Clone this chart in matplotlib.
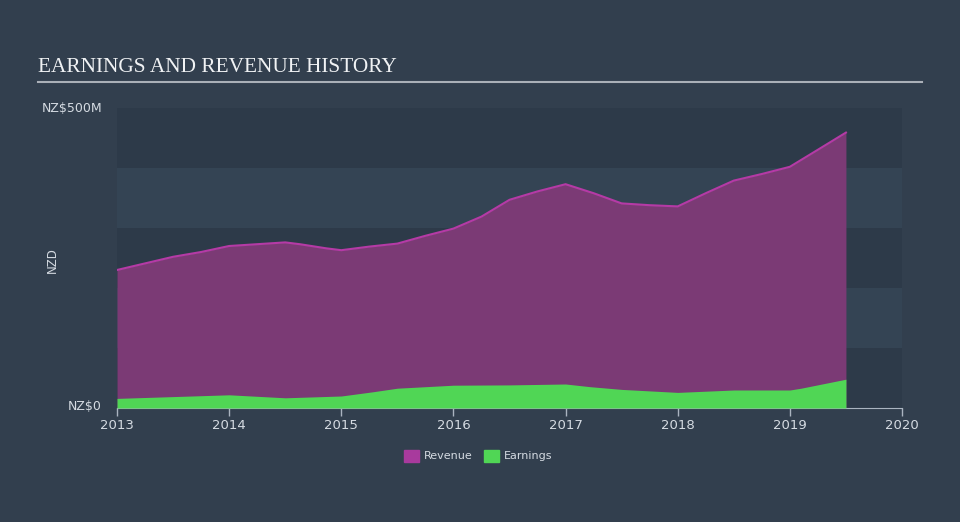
import matplotlib.pyplot as plt

# revenue and earnings (NZ$ millions)
rev_x = [2013.0, 2013.5, 2013.75, 2014.0, 2014.25, 2014.5, 2014.63, 2014.87, 2015.0,
         2015.25, 2015.5, 2015.75, 2016.0, 2016.25, 2016.5, 2016.75, 2017.0, 2017.25,
         2017.5, 2017.75, 2018.0, 2018.25, 2018.5, 2018.75, 2019.0, 2019.22, 2019.5]
rev_y = [230, 252, 260, 270, 273, 276, 273, 266, 263,
         269, 274, 287, 299, 319, 347, 361, 373, 358,
         341, 338, 336, 358, 379, 390, 402, 427, 459]

earn_x = [2013.0, 2014.0, 2014.5, 2015.0, 2015.28, 2015.5, 2015.75, 2016.0, 2016.5,
          2017.0, 2017.22, 2017.5, 2018.0, 2018.5, 2019.0, 2019.1, 2019.5]
earn_y = [16, 22, 17, 20, 27, 33, 35.5, 38, 38.5,
          40, 35.5, 31, 26, 30, 30, 33, 48]

years = [2013, 2014, 2015, 2016, 2017, 2018, 2019, 2020]

bg = '#323f4e'
fig = plt.figure(figsize=(9.6, 5.22), dpi=100, facecolor=bg)
ax = fig.add_axes([117 / 960, 1 - 408 / 522, 785 / 960, 300 / 522])
ax.set_facecolor('none')

# alternating horizontal bands
for i in range(5):
    col = '#2d3a49' if i % 2 == 0 else '#344454'
    ax.axhspan(i * 100, (i + 1) * 100, color=col, zorder=0, lw=0)

ax.fill_between(rev_x, 0, rev_y, color='#7b3a75', lw=0, zorder=2)
ax.plot(rev_x, rev_y, color='#b53aa6', lw=1.5, zorder=3)
ax.fill_between(earn_x, 0, earn_y, color='#50d655', lw=0, zorder=4)

ax.set_xlim(2013, 2020)
ax.set_ylim(0, 500)
ax.set_xticks(years)
ax.set_xticklabels([str(y) for y in years])
ax.set_yticks([])
for s in ['top', 'right', 'left']:
    ax.spines[s].set_visible(False)
ax.spines['bottom'].set_color('#aab4c0')
ax.tick_params(axis='x', colors='#aab4c0', length=6, width=1, labelsize=9.5,
               labelcolor='#d5dbe2', pad=2)

tc = '#d5dbe2'
fig.text(102 / 960, 1 - 108 / 522, 'NZ$500M', color=tc, fontsize=9,
         ha='right', va='center')
fig.text(102 / 960, 1 - 407 / 522, 'NZ$0', color=tc, fontsize=9,
         ha='right', va='center')
fig.text(52 / 960, 1 - 260 / 522, 'NZD', color=tc, fontsize=8.5, rotation=90,
         ha='center', va='center')

# title and underline
fig.text(38 / 960, 1 - 67 / 522, 'EARNINGS AND REVENUE HISTORY', color='#f0f2f4',
         fontsize=15.3, family='Liberation Serif', ha='left', va='center')
fig.add_artist(plt.Line2D([38 / 960, 922 / 960], [1 - 82 / 522, 1 - 82 / 522],
                          color='#aab0b8', lw=1.5))

# legend
fig.patches.append(plt.Rectangle((404 / 960, 1 - 462 / 522), 15 / 960, 12 / 522,
                                 color='#a83a9d', transform=fig.transFigure))
fig.text(424 / 960, 1 - 456 / 522, 'Revenue', color=tc, fontsize=8, va='center')
fig.patches.append(plt.Rectangle((484 / 960, 1 - 462 / 522), 15 / 960, 12 / 522,
                                 color='#50d655', transform=fig.transFigure))
fig.text(504 / 960, 1 - 456 / 522, 'Earnings', color=tc, fontsize=8, va='center')

fig.savefig('out.png', dpi=100, facecolor=bg)
